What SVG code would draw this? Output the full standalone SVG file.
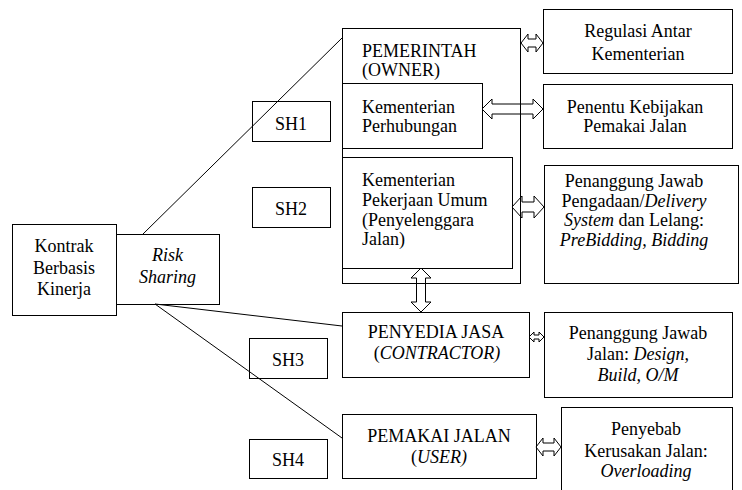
<svg xmlns="http://www.w3.org/2000/svg" width="742" height="490" viewBox="0 0 742 490">
<style>
.b{fill:none;stroke:#000;stroke-width:1}
.a{fill:none;stroke:#000;stroke-width:1;stroke-linejoin:miter}
.t{font-family:"Liberation Serif","Times New Roman",serif;font-size:18px;fill:#000}
.m{text-anchor:middle}
.i{font-style:italic}
</style>
<rect width="742" height="490" fill="#fff"/>
<g id="kontrak"><rect class="b" x="12.5" y="224.5" width="104" height="91"/>
<text class="t m" x="64" y="252">Kontrak</text><text class="t m" x="64" y="273.5">Berbasis</text><text class="t m" x="64" y="295">Kinerja</text></g>
<g id="risk"><rect class="b" x="116.5" y="234.5" width="103" height="70"/>
<text class="t m i" x="167.5" y="261">Risk</text><text class="t m i" x="167.5" y="283">Sharing</text></g>
<g id="sh1"><rect class="b" x="252.5" y="101.5" width="78" height="40"/><text class="t m" x="291" y="130">SH1</text></g>
<g id="sh2"><rect class="b" x="252.5" y="187.5" width="78" height="40"/><text class="t m" x="291" y="215">SH2</text></g>
<g id="sh3"><rect class="b" x="249.5" y="338.5" width="78" height="40"/><text class="t m" x="288" y="366">SH3</text></g>
<g id="sh4"><rect class="b" x="249.5" y="439.5" width="78" height="39"/><text class="t m" x="288" y="466">SH4</text></g>
<g id="pemerintah"><rect class="b" x="342.5" y="28.5" width="178" height="255"/>
<text class="t" x="362" y="57">PEMERINTAH</text><text class="t" x="362" y="76">(OWNER)</text></g>
<g id="perhubungan"><rect class="b" x="342.5" y="83.5" width="140" height="65"/>
<text class="t" x="362" y="113">Kementerian</text><text class="t" x="362" y="132">Perhubungan</text></g>
<g id="pu"><rect class="b" x="342.5" y="157.5" width="170" height="111"/>
<text class="t" x="362" y="186">Kementerian</text><text class="t" x="362" y="205.5">Pekerjaan Umum</text><text class="t" x="362" y="225.5">(Penyelenggara</text><text class="t" x="362" y="245">Jalan)</text></g>
<g id="regulasi"><rect class="b" x="543.5" y="9.5" width="189" height="64"/>
<text class="t m" x="638" y="37">Regulasi Antar</text><text class="t m" x="638" y="60">Kementerian</text></g>
<g id="penentu"><rect class="b" x="543.5" y="84.5" width="189" height="64"/>
<text class="t m" x="635" y="113">Penentu Kebijakan</text><text class="t m" x="635" y="131.5">Pemakai Jalan</text></g>
<g id="pengadaan"><rect class="b" x="544.5" y="165.5" width="194" height="118"/>
<text class="t m" x="634" y="187">Penanggung Jawab</text>
<text class="t m" x="634" y="206.5">Pengadaan/<tspan class="i">Delivery</tspan></text>
<text class="t m" x="634" y="226"><tspan class="i">System</tspan> dan Lelang:</text>
<text class="t m i" x="634" y="246">PreBidding, Bidding</text></g>
<g id="penyedia"><rect class="b" x="342.5" y="312.5" width="187" height="65"/>
<text class="t m" x="436" y="338">PENYEDIA JASA</text><text class="t m" x="437" y="359">(<tspan class="i">CONTRACTOR)</tspan></text></g>
<g id="jalan"><rect class="b" x="544.5" y="312.5" width="188" height="85"/>
<text class="t m" x="638" y="339">Penanggung Jawab</text><text class="t m" x="638" y="360">Jalan: <tspan class="i">Design,</tspan></text><text class="t m i" x="638" y="380.5">Build, O/M</text></g>
<g id="pemakai"><rect class="b" x="342.5" y="414.5" width="194" height="64"/>
<text class="t m" x="439" y="442">PEMAKAI JALAN</text><text class="t m" x="439" y="463">(<tspan class="i">USER)</tspan></text></g>
<g id="penyebab"><rect class="b" x="561.5" y="407.5" width="171" height="90"/>
<text class="t m" x="646" y="435">Penyebab</text><text class="t m" x="646" y="457">Kerusakan Jalan:</text><text class="t m i" x="646" y="477">Overloading</text></g>
<g id="connectors">
<line class="b" x1="143" y1="234" x2="342" y2="38"/>
<line class="b" x1="155" y1="304" x2="342" y2="326"/>
<line class="b" x1="155" y1="304" x2="342" y2="438"/>
<path class="a" d="M521,43 L528,34 L528,39 L536,39 L536,34 L543,43 L536,52 L536,47 L528,47 L528,52 Z"/>
<path class="a" d="M482,109 L492,99 L492,104 L533,104 L533,99 L543,109 L533,119 L533,114 L492,114 L492,119 Z"/>
<path class="a" d="M512,207 L522,196 L522,202 L534,202 L534,196 L544,207 L534,218 L534,212 L522,212 L522,218 Z"/>
<path class="a" d="M421,268 L431,278 L425.5,278 L425.5,302 L431,302 L421,312 L411,302 L416.5,302 L416.5,278 L411,278 Z"/>
<path class="a" d="M529,337 L534,332 L534,335 L539,335 L539,332 L544,337 L539,342 L539,339 L534,339 L534,342 Z"/>
<path class="a" d="M536,447 L543,438 L543,443 L554,443 L554,438 L561,447 L554,456 L554,451 L543,451 L543,456 Z"/>
</g>
</svg>
